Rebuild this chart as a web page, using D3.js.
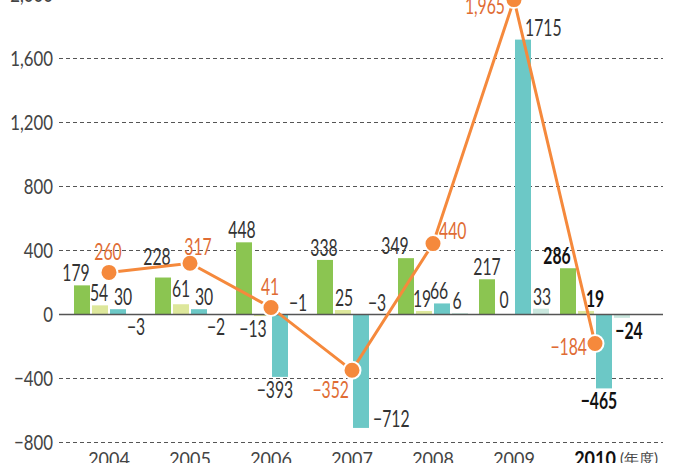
<!DOCTYPE html>
<html>
<head>
<meta charset="utf-8">
<script src="https://cdn.jsdelivr.net/npm/d3@7"></script>
<style>
  html, body { margin: 0; padding: 0; background: #fff; }
  svg { display: block; }
  text { font-family: "Lato", "DejaVu Sans", sans-serif; }
</style>
</head>
<body>
<div id="chart"></div>
<script>
// chart values
var years = ["2004", "2005", "2006", "2007", "2008", "2009", "2010"];
var seriesA = [179, 228, 448, 338, 349, 217, 286];      // green
var seriesB = [54, 61, -13, 25, 19, 0, 19];              // light yellow-green
var seriesC = [30, 30, -393, -712, 66, 1715, -465];      // teal
var seriesD = [-3, -2, -1, -3, 6, 33, -24];              // pale mint
var totals  = [260, 317, 41, -352, 440, 1965, -184];     // orange line
var yTicks  = [-800, -400, 0, 400, 800, 1200, 1600, 2000];
var unitLabel = "(年度)";

var width = 678, height = 463;
var plotLeft = 59, plotRight = 663;

var keys = ["a", "b", "c", "d"];
var colors = { a: "#8bc551", b: "#dde79b", c: "#6cc8c6", d: "#c9e7de" };
var values = { a: seriesA, b: seriesB, c: seriesC, d: seriesD };

// label nudges (layout only): [dx, dy, anchor, mode]
// mode "end" = at value end of bar, "zeroUp" = above the zero line, "side" = beside bar end
var nudge = {
  a: [[-6, 0], [-6, -9], [-2, 0], [-1, 0], [-11, 0], [0, 0], [-11, 0]],
  b: [[-1, 0], [0, -3], [-9, 0], [1, 0], [-2, 0], [-1, -2], [9, 0]],
  c: [[5, 0], [5, 0], [-5, 0], [4, -1, "start", "side"], [-3, 0], [2, 0, "start"], [-5, 0]],
  d: [[0, 0], [-1, 0], [0, 0, "middle", "zeroUp"], [-2, 0, "middle", "zeroUp"], [-3, 0], [1, 0], [7, 0]]
};
var lineNudge = [[-1, -12, "middle"], [8, -8, "middle"], [-1, -12, "middle"], [-3, 28, "end"], [6, -5, "start"], [-9, 14, "end"], [-8, 12, "end"]];

var svg = d3.select("#chart").append("svg")
  .attr("width", width)
  .attr("height", height);

var y = d3.scaleLinear().domain([-800, 2000]).range([442, -6]);
var x0 = d3.scaleBand().domain(years).range([74, 630]).paddingInner(11 / 81).paddingOuter(0);
var x1 = d3.scaleBand().domain(keys).range([0, x0.bandwidth()]).paddingInner(2 / 18).paddingOuter(0);

var fmtNum = function(v) { return String(v).replace("-", "\u2212"); };
var fmtTick = function(v) { return d3.format(",")(v).replace("-", "\u2212"); };

function label(x, yy, text, opt) {
  opt = opt || {};
  return svg.append("text")
    .attr("transform", "translate(" + x + "," + yy + ") scale(" + (opt.sx || 0.7) + ",1)")
    .attr("text-anchor", opt.anchor || "middle")
    .attr("font-size", opt.size || 22.5)
    .attr("font-weight", opt.weight || 400)
    .attr("fill", opt.fill || "#333")
    .text(text);
}

// grid
svg.append("g").selectAll("line")
  .data(yTicks.filter(function(d) { return d !== 0; }))
  .enter().append("line")
  .attr("x1", plotLeft).attr("x2", plotRight)
  .attr("y1", function(d) { return y(d) + 0.5; })
  .attr("y2", function(d) { return y(d) + 0.5; })
  .attr("stroke", "#555")
  .attr("stroke-width", 1)
  .attr("stroke-dasharray", "4,3");

// y tick labels
yTicks.forEach(function(t) {
  label(53, y(t) + 7.5, fmtTick(t), { anchor: "end", size: 21, sx: 0.8, fill: "#444" });
});

// bars
keys.forEach(function(k) {
  svg.append("g").selectAll("rect")
    .data(values[k])
    .enter().append("rect")
    .attr("x", function(d, i) { return x0(years[i]) + x1(k); })
    .attr("y", function(d) { return y(Math.max(0, d)); })
    .attr("width", x1.bandwidth())
    .attr("height", function(d) { return Math.abs(y(d) - y(0)); })
    .attr("fill", colors[k]);
});

// zero line
svg.append("line")
  .attr("x1", plotLeft).attr("x2", plotRight)
  .attr("y1", y(0) + 0.5).attr("y2", y(0) + 0.5)
  .attr("stroke", "#555").attr("stroke-width", 1.3);

// bar labels
keys.forEach(function(k) {
  values[k].forEach(function(v, i) {
    var n = nudge[k][i];
    var cx = x0(years[i]) + x1(k) + x1.bandwidth() / 2;
    var anchor = n[2] || "middle";
    var mode = n[3] || "end";
    var lx = cx + n[0], ly;
    if (mode === "zeroUp") ly = y(0) - 3;
    else if (mode === "side") { lx = x0(years[i]) + x1(k) + x1.bandwidth() + n[0]; ly = y(v) + n[1]; }
    else if (v >= 0) ly = y(v) - 4 + n[1];
    else ly = y(v) + 21 + n[1];
    var last = i === years.length - 1;
    label(lx, ly, fmtNum(v), {
      anchor: anchor,
      weight: last ? 700 : 400,
      fill: last ? "#111" : "#333"
    });
  });
});

// total line
var pts = totals.map(function(v, i) { return [x0(years[i]) + x0.bandwidth() / 2, y(v)]; });
svg.append("path")
  .attr("d", d3.line()(pts))
  .attr("fill", "none")
  .attr("stroke", "#f5893c")
  .attr("stroke-width", 3);

svg.append("g").selectAll("circle")
  .data(pts)
  .enter().append("circle")
  .attr("cx", function(d) { return d[0]; })
  .attr("cy", function(d) { return d[1]; })
  .attr("r", 8.5)
  .attr("fill", "#f5893c")
  .attr("stroke", "#fff")
  .attr("stroke-width", 2);

totals.forEach(function(v, i) {
  var n = lineNudge[i];
  label(pts[i][0] + n[0], pts[i][1] + n[1], i === 5 ? fmtTick(v) : fmtNum(v), {
    anchor: n[2], fill: "#e06c34"
  });
});

// x labels
years.forEach(function(yr, i) {
  var last = i === years.length - 1;
  label(x0(yr) + x0.bandwidth() / 2, 466, yr, {
    size: 20, sx: 0.9,
    weight: last ? 700 : 400,
    fill: last ? "#111" : "#444"
  });
});
label(x0("2010") + x0.bandwidth() / 2 + 25, 464, unitLabel, { anchor: "start", size: 15, sx: 1, fill: "#444" });
</script>
</body>
</html>
